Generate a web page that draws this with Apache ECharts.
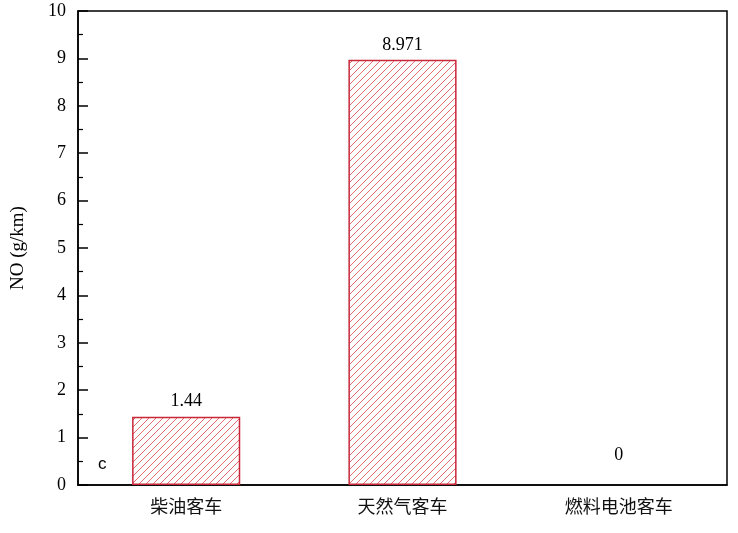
<!DOCTYPE html>
<html>
<head>
<meta charset="utf-8">
<script src="https://cdn.jsdelivr.net/npm/echarts@6/dist/echarts.min.js"></script>
<style>
  html, body { margin: 0; padding: 0; background: #fff; }
  #chart { width: 738px; height: 533px; }
</style>
</head>
<body>
<div id="chart"></div>
<script>
var categories = ['柴油客车', '天然气客车', '燃料电池客车'];
var values = [1.44, 8.971, 0];
var valueLabels = ['1.44', '8.971', '0'];
var yTicks = [0, 1, 2, 3, 4, 5, 6, 7, 8, 9, 10];

// diagonal hatch fill for the bars
function makeHatch() {
    var c = document.createElement('canvas');
    c.width = 7;
    c.height = 7;
    var ctx = c.getContext('2d');
    ctx.strokeStyle = '#d9474c';
    ctx.lineWidth = 0.8;
    ctx.beginPath();
    ctx.moveTo(0, 7);
    ctx.lineTo(7, 0);
    ctx.moveTo(-1, 1);
    ctx.lineTo(1, -1);
    ctx.moveTo(6, 8);
    ctx.lineTo(8, 6);
    ctx.stroke();
    return c;
}

var serif = '"Liberation Serif", "Times New Roman", serif';
var chart = echarts.init(document.getElementById('chart'));

var barData = values.map(function (v, i) {
    var item = { value: v, label: { formatter: valueLabels[i] } };
    if (v === 0) {
        item.label.offset = [0, -15];
        item.itemStyle = { borderWidth: 0 };
    }
    return item;
});

var option = {
    backgroundColor: '#fff',
    animation: false,
    grid: {
        left: 78, right: 11, top: 11, bottom: 48,
        show: true, borderColor: '#000', borderWidth: 1.5, backgroundColor: 'transparent'
    },
    xAxis: {
        type: 'category',
        data: categories,
        axisLine: { lineStyle: { color: '#000', width: 1.5 } },
        axisTick: { show: false },
        axisLabel: { color: '#111', fontSize: 18, margin: 12, fontFamily: '"Noto Sans CJK SC", sans-serif' }
    },
    yAxis: {
        type: 'value',
        min: yTicks[0],
        max: yTicks[yTicks.length - 1],
        interval: 1,
        name: 'NO (g/km)',
        nameLocation: 'middle',
        nameGap: 50,
        nameTextStyle: { color: '#000', fontSize: 19, fontFamily: serif },
        axisLine: { show: true, lineStyle: { color: '#000', width: 1.5 } },
        axisTick: { show: true, inside: true, length: 10, lineStyle: { color: '#000', width: 1.5 } },
        minorTick: { show: true, splitNumber: 2, length: 5, lineStyle: { color: '#000', width: 1.2 } },
        splitLine: { show: false },
        axisLabel: { color: '#000', fontSize: 18, margin: 12, fontFamily: serif }
    },
    graphic: [{
        type: 'text',
        left: 98,
        top: 456,
        style: { text: 'c', fill: '#000', font: '17px "Liberation Sans", Arial, sans-serif' }
    }],
    series: [{
        type: 'bar',
        data: barData,
        barWidth: '50%',
        itemStyle: {
            color: { image: makeHatch(), repeat: 'repeat' },
            borderColor: '#c8283a',
            borderWidth: 1.5
        },
        label: {
            show: true,
            position: 'top',
            distance: 6,
            color: '#000',
            fontSize: 18,
            fontFamily: serif
        }
    }]
};

chart.setOption(option);
</script>
</body>
</html>
